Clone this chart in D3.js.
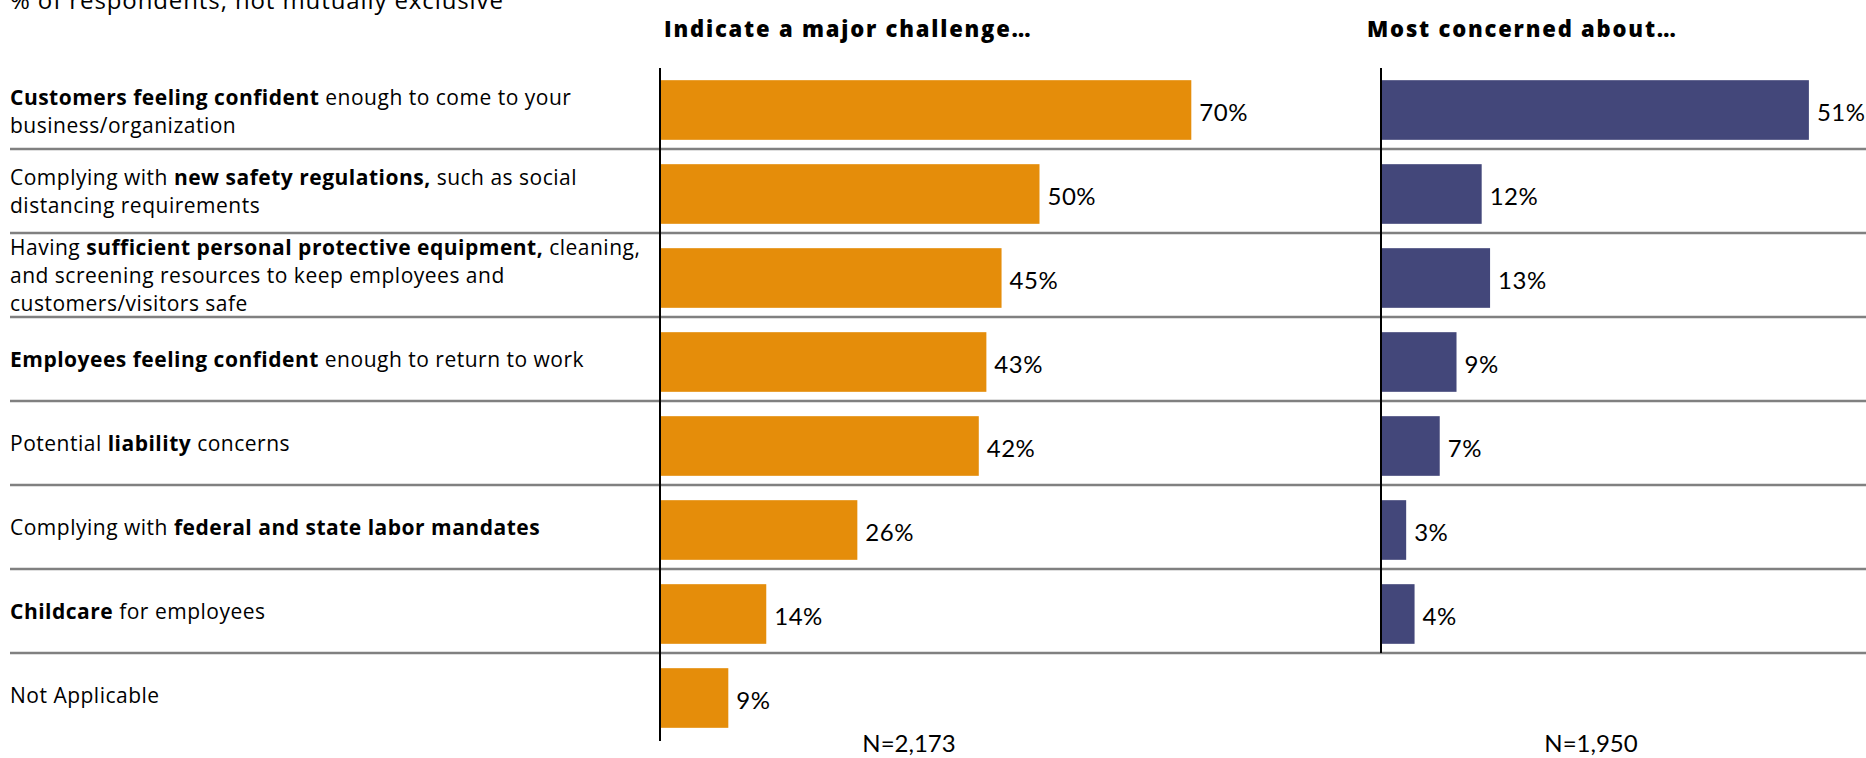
<!DOCTYPE html>
<html>
<head>
<meta charset="utf-8">
<script src="https://cdn.jsdelivr.net/npm/d3@7"></script>
<style>
  html, body { margin: 0; padding: 0; background: #fff; }
  svg { display: block; }
  text { font-family: "Open Sans", "Noto Sans", sans-serif; fill: #000; }
  .num { font-family: "Lato", "Open Sans", sans-serif; }
</style>
</head>
<body>
<svg id="chart" width="1866" height="758"></svg>
<script>
// Row labels; **...** marks the emphasised (bold) part of a line
const rowLabels = [
  ["**Customers feeling confident** enough to come to your", "business/organization"],
  ["Complying with **new safety regulations,** such as social", "distancing requirements"],
  ["Having **sufficient personal protective equipment,** cleaning,", "and screening resources to keep employees and", "customers/visitors safe"],
  ["**Employees feeling confident** enough to return to work"],
  ["Potential **liability** concerns"],
  ["Complying with **federal and state labor mandates**"],
  ["**Childcare** for employees"],
  ["Not Applicable"]
];

// % of respondents
const majorChallenge = [70, 50, 45, 43, 42, 26, 14, 9];
const mostConcerned = [51, 12, 13, 9, 7, 3, 4];

const panelTitles = ["Indicate a major challenge\u2026", "Most concerned about\u2026"];
const sampleSizes = ["N=2,173", "N=1,950"];
const subtitle = "% of respondents, not mutually exclusive";

const W = 1866, H = 758;
const svg = d3.select("#chart");

const y = d3.scaleBand()
  .domain(d3.range(rowLabels.length))
  .range([65, 737])
  .padding(0);

const xL = d3.scaleLinear().domain([0, 100]).range([660, 660 + 759]);
const xR = d3.scaleLinear().domain([0, 100]).range([1381, 1381 + 839]);

const barH = y.bandwidth() * 0.71;
const barShift = 3;

// subtitle, partly clipped by the top edge
svg.append("text")
  .attr("x", 10).attr("y", 9)
  .attr("font-size", 24)
  .attr("letter-spacing", 0.9)
  .text(subtitle);

// panel headings
[[xL(0) + 4, panelTitles[0]], [xR(0) - 14, panelTitles[1]]].forEach(([x, t]) => {
  svg.append("text")
    .attr("x", x).attr("y", 37)
    .attr("font-size", 22)
    .attr("font-weight", 800)
    .attr("letter-spacing", 1.8)
    .text(t);
});

// row separators
svg.append("g")
  .selectAll("line")
  .data(d3.range(rowLabels.length - 1))
  .join("line")
  .attr("x1", 10).attr("x2", W)
  .attr("y1", i => y(i) + y.bandwidth())
  .attr("y2", i => y(i) + y.bandwidth())
  .attr("stroke", "#808080")
  .attr("stroke-width", 2.5);

// row labels with bold runs
const lineGap = 28;
const labelG = svg.append("g").attr("font-size", 21).attr("letter-spacing", 0.5);
rowLabels.forEach((lines, i) => {
  const cy = y(i) + y.bandwidth() / 2 + (i === 0 ? 4 : 0);
  lines.forEach((ln, j) => {
    const t = labelG.append("text")
      .attr("x", 10)
      .attr("y", cy + (j - (lines.length - 1) / 2) * lineGap)
      .attr("dominant-baseline", "central");
    ln.split("**").forEach((part, k) => {
      if (!part) return;
      t.append("tspan")
        .attr("font-weight", k % 2 ? 700 : 400)
        .text(part);
    });
  });
});

function panel(values, x, color, axisBottom) {
  const g = svg.append("g");
  g.selectAll("rect")
    .data(values)
    .join("rect")
    .attr("x", x(0))
    .attr("y", (d, i) => y(i) + (y.bandwidth() - barH) / 2 + barShift)
    .attr("width", d => x(d) - x(0))
    .attr("height", barH)
    .attr("fill", color);
  g.selectAll("text.val")
    .data(values)
    .join("text")
    .attr("class", "val num")
    .attr("x", d => x(d) + 8)
    .attr("y", (d, i) => y(i) + y.bandwidth() / 2 + barShift + 1)
    .attr("dominant-baseline", "central")
    .attr("font-size", 24)
    .attr("letter-spacing", 0.5)
    .text(d => d + "%");
  g.append("line")
    .attr("x1", x(0)).attr("x2", x(0))
    .attr("y1", 68).attr("y2", axisBottom)
    .attr("stroke", "#000")
    .attr("stroke-width", 2);
}

panel(majorChallenge, xL, "#E58D0A", 741);
panel(mostConcerned, xR, "#43477A", y(mostConcerned.length - 1) + y.bandwidth());

// sample sizes
[[909, sampleSizes[0]], [1591, sampleSizes[1]]].forEach(([x, t]) => {
  svg.append("text")
    .attr("class", "num")
    .attr("x", x).attr("y", 752)
    .attr("text-anchor", "middle")
    .attr("font-size", 24)
    .text(t);
});
</script>
</body>
</html>
